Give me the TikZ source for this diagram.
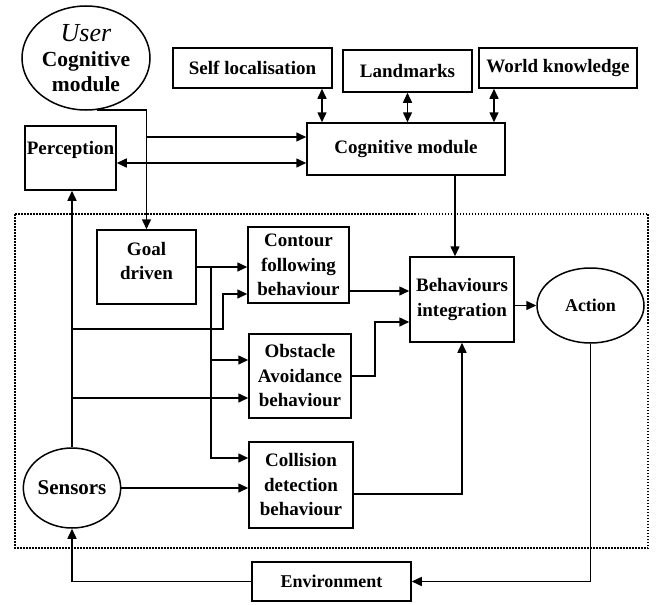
\documentclass[tikz,border=0pt]{standalone}
\usepackage{fontspec}
\setmainfont{Liberation Serif}
\usetikzlibrary{arrows.meta, shapes.geometric}

\begin{document}
\begin{tikzpicture}[x=1pt, y=-1pt, line width=1.5pt,
    box/.style={draw, rectangle, inner sep=0pt, align=center,
        font=\bfseries\fontsize{19}{24.5}\selectfont},
    oval/.style={draw, ellipse, inner sep=0pt, align=center,
        font=\bfseries\fontsize{19}{24.5}\selectfont},
    arr/.style={-{Triangle[length=10pt,width=9pt]}},
    dbl/.style={{Triangle[length=10pt,width=9pt]}-{Triangle[length=10pt,width=9pt]}}]
        \useasboundingbox (0,0) rectangle (656,605);

        \draw[line width=1.2pt, dash pattern=on 1.5pt off 1.5pt] (15,214) rectangle (648,548);

        \node[oval, minimum width=128pt, minimum height=104pt,
              font=\bfseries\fontsize{21.5}{25}\selectfont] (user) at (86,58)
            {{\mdseries\itshape\fontsize{26}{28}\selectfont User}\\ Cognitive\\ module};
        \node[box, minimum width=91pt, minimum height=64pt, text depth=20pt] (percep) at (70.5,158) {Perception};
        \node[box, minimum width=159pt, minimum height=40pt] (selfloc) at (252.5,68) {Self localisation};
        \node[box, minimum width=129pt, minimum height=42pt] (landmarks) at (407.5,71) {Landmarks};
        \node[box, minimum width=158pt, minimum height=40pt] (world) at (558,68) {World knowledge};
        \node[box, minimum width=198pt, minimum height=52pt] (cog) at (406,149) {Cognitive module};
        \node[box, minimum width=99pt, minimum height=74pt, text depth=12pt] (goal) at (146.5,267) {Goal\\ driven};
        \node[box, minimum width=101pt, minimum height=76pt] (contour) at (298.5,265) {Contour\\ following\\ behaviour};
        \node[box, minimum width=102pt, minimum height=84pt] (obstacle) at (300,376) {Obstacle\\ Avoidance\\ behaviour};
        \node[box, minimum width=104pt, minimum height=86pt] (collision) at (301,485) {Collision\\ detection\\ behaviour};
        \node[box, minimum width=104pt, minimum height=85pt] (behint) at (462,299.5) {Behaviours\\ integration};
        \node[oval, minimum width=107pt, minimum height=75pt, font=\bfseries\fontsize{18}{24}\selectfont] (action) at (590.5,305.5) {Action};
        \node[oval, minimum width=94pt, minimum height=80pt, font=\bfseries\fontsize{21}{24}\selectfont] (sensors) at (72,488) {Sensors};
        \node[box, minimum width=159pt, minimum height=39pt, font=\bfseries\fontsize{18}{24}\selectfont] (env) at (331.5,581.5) {Environment};

        \coordinate (ubend) at (146.5,137);
        \coordinate (cmrow) at (0,163);
        \coordinate (slx) at (322,0);
        \coordinate (wkx) at (494,0);
        \coordinate (cmx) at (455,0);
        \coordinate (s1) at (72,329);
        \coordinate (s1b) at (223,294);
        \coordinate (s2) at (72,398);
        \coordinate (g1) at (211,267);
        \coordinate (go) at (0,360);
        \coordinate (gc) at (0,458);
        \coordinate (co) at (0,494);
        \coordinate (ci) at (0,291);
        \coordinate (ob) at (375,322);

        \draw[arr] (user.-78) -| (goal.north);
        \draw[arr] (ubend) -- (ubend -| cog.west);
        \draw[dbl] (percep.east |- cmrow) -- (cog.west |- cmrow);
        \draw[dbl] (selfloc.south -| slx) -- (cog.north -| slx);
        \draw[dbl] (landmarks.south) -- (landmarks.south |- cog.north);
        \draw[dbl] (world.south -| wkx) -- (cog.north -| wkx);
        \draw[arr] (cog.south -| cmx) -- (behint.north -| cmx);

        \draw[arr] (sensors.north) -- (sensors.north |- percep.south);
        \draw[arr] (s1) -| (s1b) -- (s1b -| contour.west);
        \draw[arr] (s2) -- (s2 -| obstacle.west);
        \draw[arr] (sensors.east) -- (sensors.east -| collision.west);

        \draw[arr] (goal.east) -- (goal.east -| contour.west);
        \draw[arr] (g1) |- (obstacle.west |- go);
        \draw[arr] (g1) |- (collision.west |- gc);

        \draw[arr] (contour.east |- ci) -- (behint.west |- ci);
        \draw[arr] (obstacle.east) -| (ob) -- (ob -| behint.west);
        \draw[arr] (collision.east |- co) -| (behint.south);
        \draw[arr] (behint.east |- action.west) -- (action.west);

        \draw[arr] (action.south) |- (env.east);
        \draw[arr] (env.west) -| (sensors.south);
    \end{tikzpicture}
\end{document}
